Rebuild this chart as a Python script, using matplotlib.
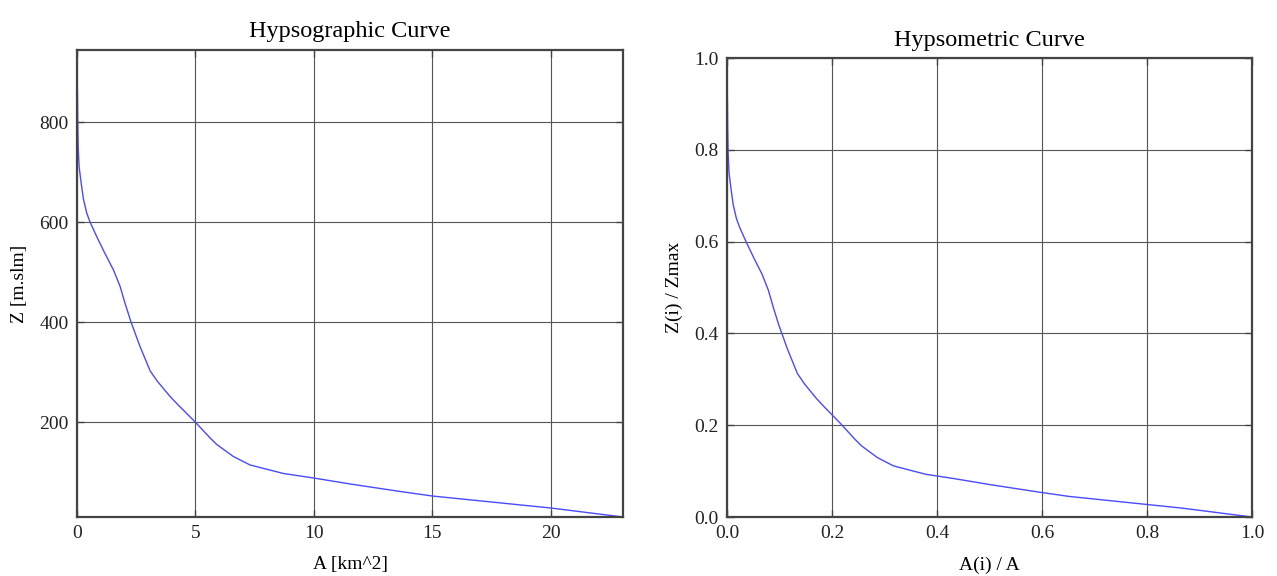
import numpy as np
import matplotlib
matplotlib.use("Agg")
import matplotlib.pyplot as plt
from matplotlib.ticker import FormatStrFormatter

# area above elevation (km^2) vs elevation (m a.s.l.)
area_km2 = [0.00, 0.005, 0.02, 0.03, 0.05, 0.09, 0.17, 0.27, 0.41, 0.55,
            0.83, 1.18, 1.54, 1.82, 2.03, 2.28, 2.66, 3.09, 3.40, 3.93,
            4.21, 4.99, 5.62, 5.90, 6.60, 7.31, 8.72, 9.99, 11.54, 13.65,
            15.0, 17.5, 20.0, 23.05]
elev_m = [944, 900, 850, 800, 750, 710, 680, 646, 618, 600,
          571, 537, 504, 471, 437, 400, 351, 302, 281, 251,
          237, 200, 168, 155, 131, 114, 97, 88, 76, 61,
          52, 40, 28, 10]

left_xticks = [0, 5, 10, 15, 20]
left_yticks = [200, 400, 600, 800]
right_ticks = [0.0, 0.2, 0.4, 0.6, 0.8, 1.0]

plt.rcParams["font.family"] = ["Liberation Serif", "DejaVu Serif"]

LINE_COLOR = "#4a4aff"
GRID_COLOR = "#555555"
SPINE_COLOR = "#444444"


def style_axes(ax):
    ax.grid(True, color=GRID_COLOR, linewidth=0.8, linestyle="-")
    for s in ax.spines.values():
        s.set_color(SPINE_COLOR)
        s.set_linewidth(1.6)
    ax.tick_params(direction="in", length=5, width=1, colors=SPINE_COLOR,
                   labelcolor="#222222", labelsize=14,
                   top=True, right=True, pad=6)


fig = plt.figure(figsize=(12.77, 5.76), dpi=100)

# left: hypsographic curve
ax1 = fig.add_axes([0.0603, 0.1024, 0.4276, 0.8108])
ax1.plot(area_km2, elev_m, color=LINE_COLOR, linewidth=1.0)
ax1.set_xlim(0, area_km2[-1])
ax1.set_ylim(min(elev_m), max(elev_m))
ax1.set_xticks(left_xticks)
ax1.set_yticks(left_yticks)
style_axes(ax1)
ax1.set_title("Hypsographic Curve", fontsize=17.5, pad=9)
ax1.set_xlabel("A [km^2]", fontsize=14, labelpad=10)
ax1.set_ylabel("Z [m.slm]", fontsize=14, labelpad=8)

# right: hypsometric curve (normalised)
a = np.array(area_km2)
z = np.array(elev_m)
rel_area = a / a.max()
rel_elev = (z - z.min()) / (z.max() - z.min())

ax2 = fig.add_axes([0.5693, 0.1024, 0.4111, 0.7969])
ax2.plot(rel_area, rel_elev, color=LINE_COLOR, linewidth=1.0)
ax2.set_xlim(0, 1)
ax2.set_ylim(0, 1)
ax2.set_xticks(right_ticks)
ax2.set_yticks(right_ticks)
ax2.xaxis.set_major_formatter(FormatStrFormatter("%.1f"))
ax2.yaxis.set_major_formatter(FormatStrFormatter("%.1f"))
style_axes(ax2)
ax2.set_title("Hypsometric Curve", fontsize=17.5, pad=9)
ax2.set_xlabel("A(i) / A", fontsize=14, labelpad=10)
ax2.set_ylabel("Z(i) / Zmax", fontsize=14, labelpad=8)

fig.savefig("out.png", dpi=100, facecolor="white")
